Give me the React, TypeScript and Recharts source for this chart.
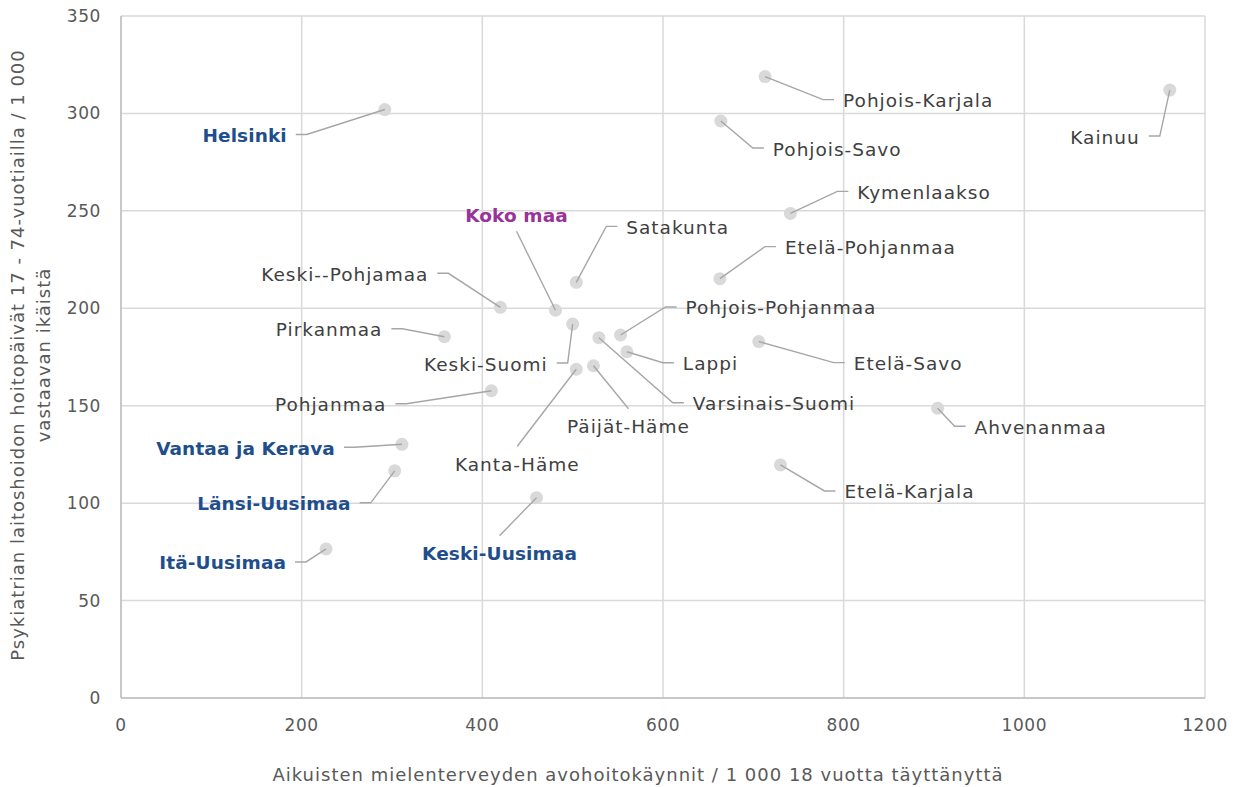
import React from 'react';
import { ScatterChart, Scatter, XAxis, YAxis, CartesianGrid } from 'recharts';

// regions, x = outpatient visits / 1000 adults, y = psychiatric inpatient days / 1000 aged 17-74
const regions = [
  'Helsinki', 'Koko maa', 'Keski--Pohjamaa', 'Pirkanmaa', 'Satakunta', 'Etelä-Pohjanmaa',
  'Pohjois-Pohjanmaa', 'Keski-Suomi', 'Lappi', 'Varsinais-Suomi', 'Päijät-Häme', 'Kanta-Häme',
  'Pohjanmaa', 'Vantaa ja Kerava', 'Länsi-Uusimaa', 'Itä-Uusimaa', 'Keski-Uusimaa',
  'Pohjois-Karjala', 'Kainuu', 'Pohjois-Savo', 'Kymenlaakso', 'Etelä-Savo', 'Ahvenanmaa', 'Etelä-Karjala',
];
const visits = [
  292, 481, 420, 358, 504, 663, 553, 500, 560, 529, 523, 504,
  410, 311, 303, 227, 460, 713, 1161, 664, 741, 706, 904, 730,
];
const inpatientDays = [
  302, 199, 200.5, 185.4, 213.3, 215.2, 186.3, 191.9, 177.7, 184.9, 170.5, 168.7,
  157.7, 130.2, 116.6, 76.5, 102.8, 318.9, 312, 296.1, 248.7, 182.9, 148.7, 119.6,
];
const xTicks = [0, 200, 400, 600, 800, 1000, 1200];
const yTicks = [0, 50, 100, 150, 200, 250, 300, 350];
const uusimaaRegions = ['Helsinki', 'Vantaa ja Kerava', 'Länsi-Uusimaa', 'Itä-Uusimaa', 'Keski-Uusimaa'];
const wholeCountry = 'Koko maa';

// label placement, px relative to point: [dx, dy, anchor]
const labelPos: Record<string, [number, number, 'start' | 'end' | 'above' | 'below']> = {
  'Helsinki': [-98, 26, 'end'],
  'Koko maa': [-39, -95, 'above'],
  'Keski--Pohjamaa': [-72, -33, 'end'],
  'Pirkanmaa': [-62, -7, 'end'],
  'Satakunta': [50, -55, 'start'],
  'Etelä-Pohjanmaa': [65, -31, 'start'],
  'Pohjois-Pohjanmaa': [65, -27, 'start'],
  'Keski-Suomi': [-25, 40, 'end'],
  'Lappi': [56, 12, 'start'],
  'Varsinais-Suomi': [94, 66, 'start'],
  'Päijät-Häme': [35, 61, 'below'],
  'Kanta-Häme': [-59, 95, 'below'],
  'Pohjanmaa': [-105, 14, 'end'],
  'Vantaa ja Kerava': [-67, 4, 'end'],
  'Länsi-Uusimaa': [-44, 33, 'end'],
  'Itä-Uusimaa': [-40, 14, 'end'],
  'Keski-Uusimaa': [-37, 56, 'below'],
  'Pohjois-Karjala': [78, 24, 'start'],
  'Kainuu': [-30, 47, 'end'],
  'Pohjois-Savo': [52, 28, 'start'],
  'Kymenlaakso': [67, -21, 'start'],
  'Etelä-Savo': [95, 22, 'start'],
  'Ahvenanmaa': [37, 19, 'start'],
  'Etelä-Karjala': [64, 27, 'start'],
};

const data = regions.map((name, i) => ({ name, x: visits[i], y: inpatientDays[i] }));

const FONT = '"DejaVu Sans", sans-serif';
const axisText = { fill: '#595959', fontSize: 17, fontFamily: FONT, letterSpacing: 0.6 };
const titleText = { fill: '#595959', fontSize: 18, fontFamily: FONT, letterSpacing: 1 };

const Point = (props: any) => {
  const { cx, cy, payload } = props;
  if (cx == null || cy == null) return null;
  const [dx, dy, anchor] = labelPos[payload.name];
  const tx = cx + dx;
  const ty = cy + dy;
  let leader: string;
  if (anchor === 'start') leader = `${tx - 9},${ty - 1} ${tx - 20},${ty - 1} ${cx},${cy}`;
  else if (anchor === 'end') leader = `${tx + 9},${ty - 1} ${tx + 20},${ty - 1} ${cx},${cy}`;
  else if (anchor === 'above') leader = `${tx},${ty + 16} ${cx},${cy}`;
  else leader = `${tx},${ty - 18} ${cx},${cy}`;
  const bold = uusimaaRegions.includes(payload.name) || payload.name === wholeCountry;
  const color = payload.name === wholeCountry ? '#993399' : bold ? '#1f4e8c' : '#404040';
  return (
    <g>
      <circle cx={cx} cy={cy} r={6.5} fill="#d9d9d9" />
      <polyline points={leader} fill="none" stroke="#a6a6a6" strokeWidth={1.4} />
      <text
        x={tx}
        y={ty}
        dy="0.35em"
        textAnchor={anchor === 'start' ? 'start' : anchor === 'end' ? 'end' : 'middle'}
        fill={color}
        fontSize={18.5}
        fontWeight={bold ? 'bold' : 'normal'}
        fontFamily={FONT}
        letterSpacing={bold ? 0.1 : 1}
      >
        {payload.name}
      </text>
    </g>
  );
};

const YTitle = () => (
  <g>
    <text transform="translate(24,355) rotate(-90)" textAnchor="middle" {...titleText}>
      Psykiatrian laitoshoidon hoitopäivät 17 - 74-vuotiailla / 1 000
    </text>
    <text transform="translate(50,355) rotate(-90)" textAnchor="middle" {...titleText}>
      vastaavan ikäistä
    </text>
  </g>
);

const XTitle = () => (
  <text x={638} y={781} textAnchor="middle" {...titleText}>
    Aikuisten mielenterveyden avohoitokäynnit / 1 000 18 vuotta täyttänyttä
  </text>
);

export default function App() {
  return (
    <div style={{ position: 'absolute', left: 0, top: 0, background: '#fff' }}>
      <ScatterChart width={1237} height={787} margin={{ top: 16, right: 32, bottom: 0, left: 0 }}>
        <CartesianGrid stroke="#d9d9d9" strokeWidth={1.5} />
        <XAxis
          type="number"
          dataKey="x"
          domain={[0, 1200]}
          ticks={xTicks}
          height={89}
          tickLine={false}
          tickMargin={15}
          axisLine={{ stroke: '#bfbfbf', strokeWidth: 1.5 }}
          tick={axisText}
          label={<XTitle />}
        />
        <YAxis
          type="number"
          dataKey="y"
          domain={[0, 350]}
          ticks={yTicks}
          width={121}
          tickLine={false}
          tickMargin={14}
          axisLine={{ stroke: '#bfbfbf', strokeWidth: 1.5 }}
          tick={axisText}
          label={<YTitle />}
        />
        <Scatter data={data} shape={(p: any) => <Point {...p} />} isAnimationActive={false} />
      </ScatterChart>
    </div>
  );
}
